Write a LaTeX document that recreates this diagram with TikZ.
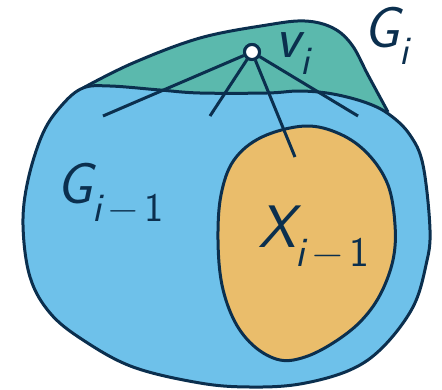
\documentclass[tikz,border=0pt]{standalone}
\usepackage{fontspec}
\usepackage{tikz}
\usetikzlibrary{positioning}
\definecolor{GrNavy}  {HTML}{0B2F4E}
\definecolor{GrBlue}  {HTML}{6EC1EA}
\definecolor{GrGreen} {HTML}{5BB9AD}
\definecolor{GrOrange}{HTML}{EABD6B}
\newcommand{\sv}[1]{{\slshape #1}}
\begin{document}
\begin{tikzpicture}[x=1pt,y=-1pt,
    region/.style={draw=GrNavy,line width=3pt,line join=round,fill=#1},
    lbl/.style={font=\fontsize{58}{64}\selectfont\sffamily,text=GrNavy,
                anchor=base west,inner sep=0pt},
    edg/.style={draw=GrNavy,line width=3pt},
    vtx/.style={circle,draw=GrNavy,fill=white,line width=3pt,
                minimum size=15pt,inner sep=0pt}
  ]
    \useasboundingbox (0,0) rectangle (442,389);
    % top part of G_i
    \fill[GrGreen] plot[smooth,tension=0.6] coordinates {(83,88) (133,63)
      (200,38) (267,25) (305,21) (333,28) (352,45) (368,75) (388,112)}
      -- (330,125) -- (100,125) -- cycle;
    \draw[GrNavy,line width=3pt] plot[smooth,tension=0.6] coordinates {(83,88)
      (133,63) (200,38) (267,25) (305,21) (333,28) (352,45) (368,75) (388,112)};
    % G_{i-1}
    \draw[region=GrBlue] plot[smooth cycle,tension=0.6] coordinates {(83,88)
      (110,86) (160,90) (200,93) (267,93) (300,91) (333,94) (367,103)
      (390,115) (410,135) (423,165) (430,230) (426,265) (413,307)
      (383,347) (350,370) (300,384) (250,387) (200,383) (133,367)
      (83,340) (50,313) (30,277) (23,225) (28,180) (43,133) (62,105)};
    % X_{i-1}
    \draw[region=GrOrange] plot[smooth cycle,tension=0.6] coordinates {(305,126)
      (262,137) (234,160) (221,195) (218,240) (222,285) (235,322)
      (255,347) (280,360) (305,357) (333,343) (360,322) (380,295)
      (393,260) (395,225) (388,185) (368,154) (340,134)};
    % vertex and its edges
    \coordinate (e1) at (103,116);
    \coordinate (e2) at (210,116);
    \coordinate (e3) at (295,157);
    \coordinate (e4) at (358,116);
    \node[vtx] (v) at (252,52) {};
    \foreach \e in {e1,e2,e3,e4}
      \draw[edg] (v) -- (\e);
    \node[vtx] at (v) {};
    % labels
    \node[lbl] (lv) at (275,57) {\sv{v}\textsubscript{\sv{i}}};
    \node[lbl] (lg) at (363,47) {\sv{G}\textsubscript{\sv{i}}};
    \node[lbl] (lgp) at (56,203) {\sv{G}\textsubscript{\sv{i}\,−\,1}};
    \node[lbl,font=\fontsize{60}{66}\selectfont\sffamily] (lx) at (258,247)
      {\sv{X}\textsubscript{\sv{i}\,−\,1}};
  \end{tikzpicture}
\end{document}
